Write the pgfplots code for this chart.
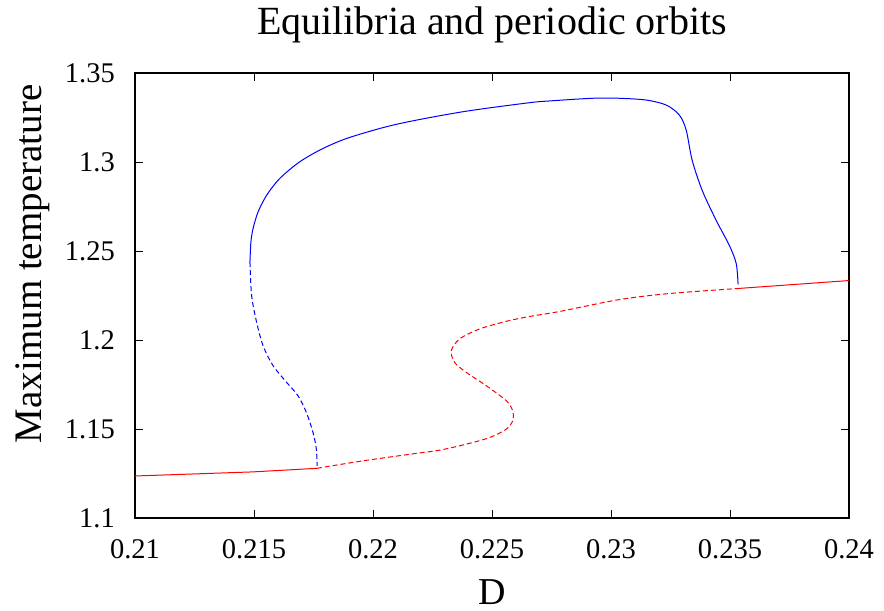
\documentclass[border=0pt]{standalone}
\usepackage{fontspec}
\setmainfont{Liberation Serif}
\usepackage{pgfplots}
\pgfplotsset{compat=1.18}

\begin{document}
\begin{tikzpicture}
\begin{axis}[
  at={(0,0)}, anchor=south west,
  scale only axis, width=714bp, height=445bp,
  xmin=0.21, xmax=0.24, ymin=1.1, ymax=1.35,
  xtick={0.21,0.215,0.22,0.225,0.23,0.235,0.24},
  xticklabels={0.21,0.215,0.22,0.225,0.23,0.235,0.24},
  ytick={1.1,1.15,1.2,1.25,1.3,1.35},
  yticklabels={1.1,1.15,1.2,1.25,1.3,1.35},
  tick align=inside, major tick length=8bp,
  xtick pos=both, ytick pos=both,
  axis line style={line width=1.2bp},
  every tick/.style={black, line width=0.9bp},
  xticklabel style={font=\rmfamily\fontsize{28.5bp}{32bp}\selectfont, anchor=base, yshift=-40bp, inner sep=0pt},
  yticklabel style={font=\rmfamily\fontsize{28.5bp}{32bp}\selectfont, anchor=east, xshift=-20bp, inner sep=0pt},
  title={Equilibria and periodic orbits},
  title style={font=\fontsize{40bp}{46bp}\selectfont, at={(axis description cs:0.5,1)}, anchor=base, yshift=33bp, inner sep=0pt},
  xlabel={D},
  xlabel style={font=\fontsize{38bp}{44bp}\selectfont, at={(axis description cs:0.5,0)}, anchor=base, yshift=-86bp, inner sep=0pt},
  ylabel={Maximum temperature},
  ylabel style={font=\fontsize{39bp}{44bp}\selectfont, at={(axis description cs:-0.1303,0.571)}, anchor=base, rotate=0, inner sep=0pt},
  clip=true,
]
% stable equilibria, lower branch
\addplot[red, line width=1bp] table {
0.21    1.1236
0.21495 1.1259
0.21764 1.1279
};
% unstable equilibria (S-shaped middle part)
\addplot[red, line width=1bp, dash pattern=on 5bp off 3bp, smooth] table {
0.21764 1.1279
0.21957 1.1321
0.22166 1.1360
0.22280 1.1381
0.22392 1.1415
0.22490 1.1452
0.22560 1.1499
0.22587 1.1546
0.22587 1.1602
0.22560 1.1659
0.22476 1.1743
0.22392 1.1818
0.22343 1.1874
0.22329 1.1940
0.22364 1.2006
0.22448 1.2062
0.22560 1.2105
0.22657 1.2132
0.22783 1.2160
0.23035 1.2227
0.23245 1.2261
0.23530 1.2289
};
% stable equilibria, upper branch
\addplot[red, line width=1bp] table {
0.23530 1.2289
0.24    1.2334
};
% stable periodic orbits
\addplot[blue, line width=1bp, smooth] table {
0.23534 1.2312
0.23526 1.2430
0.23497 1.2532
0.23442 1.2672
0.23383 1.2841
0.23341 1.3010
0.23316 1.3179
0.23287 1.3264
0.23232 1.3320
0.23148 1.3348
0.23035 1.3358
0.22922 1.3358
0.22754 1.3344
0.22657 1.3333
0.22376 1.3282
0.22099 1.3212
0.21902 1.3138
0.21790 1.3076
0.21692 1.3001
0.21608 1.2907
0.21553 1.2813
0.21517 1.2719
0.21496 1.2626
0.21487 1.2550
0.21483 1.2437
};
% unstable periodic orbits
\addplot[blue, line width=1bp, dash pattern=on 5bp off 3bp, smooth] table {
0.21483 1.2437
0.21490 1.2250
0.21511 1.2100
0.21538 1.1968
0.21580 1.1856
0.21637 1.1762
0.21685 1.1687
0.21720 1.1593
0.21748 1.1480
0.21762 1.1387
0.21765 1.1293
};
\end{axis}
\pgfresetboundingbox
\path[use as bounding box] (-135bp,-93bp) rectangle (749bp,518bp);
\end{tikzpicture}
\end{document}
